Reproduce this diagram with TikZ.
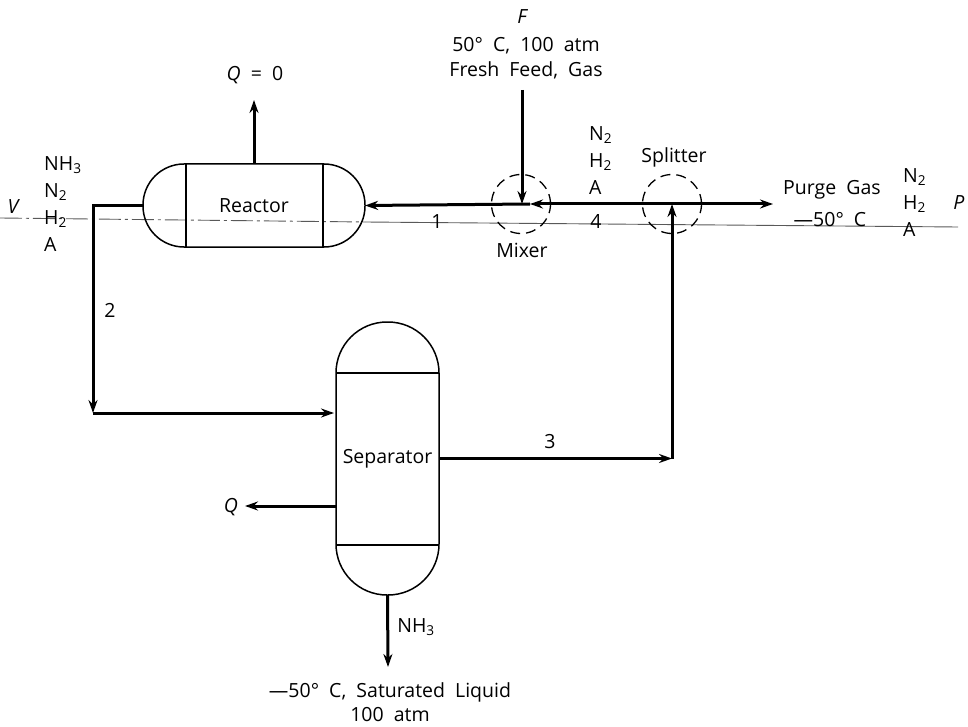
\documentclass[tikz,border=0pt]{standalone}
\usepackage{fontspec}
\setmainfont[WordSpace=2]{Open Sans}
\usepackage{tikz}
\usetikzlibrary{arrows.meta,positioning,calc}

\tikzset{
  txt/.style={font=\fontsize{19.5}{27}\selectfont,inner sep=0pt,align=center},
  stack/.style={txt,align=left},
  flow/.style={line width=3pt,-{Stealth[length=13pt,width=9pt]}},
  vessel/.style={draw,line width=1.5pt,inner sep=0pt,outer sep=0pt},
  unit/.style={draw,dashed,circle,line width=1.3pt,dash pattern=on 10pt off 6pt,minimum size=59pt,inner sep=0pt},
  envelope/.style={gray!70!black,line width=0.9pt}
}

\begin{document}
\begin{tikzpicture}[x=1pt,y=-1pt]
  \useasboundingbox (0,0) rectangle (968,727);

  \coordinate (envA) at (0,218);
  \coordinate (envB) at (365,222);
  \coordinate (envC) at (958,227);
  \draw[envelope,dash pattern=on 22pt off 4pt on 3pt off 4pt] (envA) -- (envB);
  \draw[envelope] (envB) -- (envC);

  \node[vessel,rounded corners=41pt,minimum width=222pt,minimum height=83pt,font=\fontsize{19.5}{20}\selectfont] (reactor) at (254,205.5) {Reactor};
  \draw[vessel] ($(reactor.north west)+(43,0)$) -- ($(reactor.south west)+(43,0)$);
  \draw[vessel] ($(reactor.north east)+(-42,0)$) -- ($(reactor.south east)+(-42,0)$);

  \node[vessel,rounded corners=51pt,minimum width=103pt,minimum height=273pt,font=\fontsize{19.5}{20}\selectfont] (separator) at (387.5,458.5) {Separator};
  \draw[vessel] ($(separator.north west)+(0,51)$) -- ($(separator.north east)+(0,51)$);
  \draw[vessel] ($(separator.south west)+(0,-50)$) -- ($(separator.south east)+(0,-50)$);

  \node[unit] (mixer) at (521,204) {};
  \node[unit] (splitter) at (672,204) {};

  \coordinate (feedtop) at (522,90);
  \coordinate (mixin) at (530,204);
  \coordinate (purgeend) at (773,204);
  \coordinate (heatup) at (254,100);
  \coordinate (corner) at (93,205.5);
  \coordinate (cornerlow) at (93,413);
  \coordinate (sepin) at (334,413);
  \coordinate (turn) at (672,458.5);
  \coordinate (heatout) at (245,506);
  \coordinate (heatsep) at (336,506);
  \coordinate (liquidend) at (388,667);

  \draw[flow] (feedtop) -- (mixer.center -| feedtop);
  \draw[flow] (mixin) -- (reactor.east);
  \draw[flow] (splitter.center) -- (mixin);
  \draw[flow] (splitter.center) -- (purgeend);
  \draw[flow] (reactor.north) -- (heatup);
  \draw[flow] (reactor.west) -- (corner) -- (cornerlow);
  \draw[flow] (cornerlow) -- (sepin);
  \draw[flow] (separator.east) -- (turn);
  \draw[flow] (turn) -- (splitter.center);
  \draw[flow] (heatsep) -- (heatout);
  \draw[flow] (separator.south) -- (liquidend);

  \node[txt,font=\fontsize{19.5}{27}\itshape] (flabel) at (522,17) {F};
  \node[txt] (feedtext) at (526,58.5) {50\textdegree\ C, 100 atm\\[-2pt]Fresh Feed, Gas};
  \node[txt] (qzero) at (255,75) {\textit{Q} = 0};
  \node[txt] (qsep) at (231,507) {\textit{Q}};
  \node[txt,font=\fontsize{19.5}{27}\itshape] (vlabel) at (13,207) {V};
  \node[txt,font=\fontsize{19.5}{27}\itshape] (plabel) at (959,203) {P};
  \node[stack,anchor=north west] (compV) at (44,156) {NH\textsubscript{3}\\N\textsubscript{2}\\H\textsubscript{2}\\A};
  \node[stack,anchor=north west] (compR) at (589,126) {N\textsubscript{2}\\H\textsubscript{2}\\A};
  \node[stack,anchor=north west] (compP) at (903,168) {N\textsubscript{2}\\H\textsubscript{2}\\A};
  \node[txt] (splittertext) at (674,157) {Splitter};
  \node[txt] (mixertext) at (522,250) {Mixer};
  \node[txt] (purgetext) at (832,190) {Purge Gas};
  \node[txt] (purgetemp) at (830,220) {---50\textdegree\ C};
  \node[txt] (s1) at (437,222) {1};
  \node[txt] (s2) at (110,310) {2};
  \node[txt] (s3) at (550,442) {3};
  \node[txt] (s4) at (596,222) {4};
  \node[txt] (nh3) at (416,627) {NH\textsubscript{3}};
  \node[txt] (liquidtext) at (390,702) {---50\textdegree\ C, Saturated Liquid\\[-3pt]100 atm};
\end{tikzpicture}
\end{document}
